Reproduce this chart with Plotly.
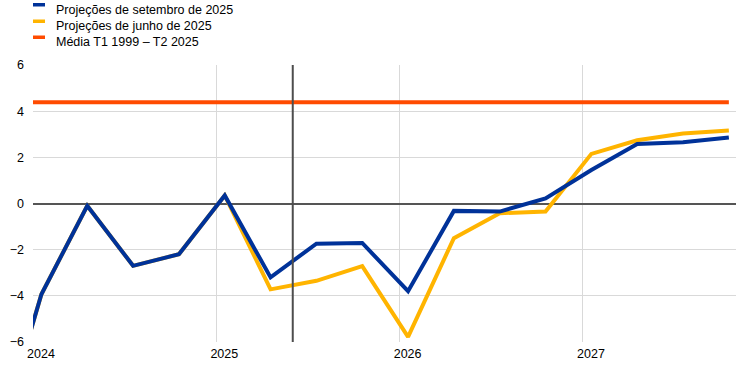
import plotly.graph_objects as go

# Quarterly periods (T = trimestre)
quarters = ["2023T4", "2024T1", "2024T2", "2024T3", "2024T4",
            "2025T1", "2025T2", "2025T3", "2025T4",
            "2026T1", "2026T2", "2026T3", "2026T4",
            "2027T1", "2027T2", "2027T3", "2027T4"]

proj_setembro = [-10.7, -3.93, -0.1, -2.7, -2.2,
                 0.35, -3.2, -1.74, -1.71,
                 -3.8, -0.32, -0.35, 0.22,
                 1.45, 2.58, 2.65, 2.86]

proj_junho = [-10.7, -3.93, -0.1, -2.7, -2.2,
              0.35, -3.72, -3.35, -2.71,
              -5.78, -1.5, -0.42, -0.35,
              2.15, 2.74, 3.03, 3.16]

media_historica = 4.39  # Média T1 1999 – T2 2025

series_names = ["Projeções de setembro de 2025",
                "Projeções de junho de 2025",
                "Média T1 1999 – T2 2025"]

year_ticks = [2024, 2025, 2026, 2027]
year_labels = ["2024", "2025", "2026", "2027"]
cutoff_year = 2025.417  # data de corte das projeções
quarter_offset = 0.046  # position of a quarter inside its span


def q_to_x(q):
    y, t = q.split("T")
    return int(y) + (int(t) - 1) * 0.25 + quarter_offset


x_vals = [q_to_x(q) for q in quarters]

BLUE = "#003299"
YELLOW = "#FFB400"
ORANGE = "#FF4B00"
COLORS = [BLUE, YELLOW, ORANGE]
FONT = "Liberation Sans, Arial, sans-serif"

fig = go.Figure()
fig.add_trace(go.Scatter(x=x_vals, y=proj_junho, mode="lines",
                         name=series_names[1],
                         line=dict(color=YELLOW, width=4), showlegend=False))
fig.add_trace(go.Scatter(x=x_vals, y=proj_setembro, mode="lines",
                         name=series_names[0],
                         line=dict(color=BLUE, width=4), showlegend=False))
fig.add_trace(go.Scatter(x=x_vals, y=[media_historica] * len(x_vals), mode="lines",
                         name=series_names[2],
                         line=dict(color=ORANGE, width=4), showlegend=False))

fig.add_shape(type="line", xref="x", yref="paper", x0=cutoff_year, x1=cutoff_year,
              y0=0, y1=1, line=dict(color="#4d4d4d", width=2), layer="above")

# Legend (drawn by hand to get the short colour swatches)
row_swatch_top = [58.5, 42.0, 26.0]   # pixels above plot top
row_text_shift = [55.5, 39.5, 23.5]
for i, name in enumerate(series_names):
    fig.add_shape(type="rect", xref="paper", yref="paper",
                  xsizemode="pixel", ysizemode="pixel", xanchor=0, yanchor=1,
                  x0=0, x1=12, y0=row_swatch_top[i], y1=row_swatch_top[i] + 3.5,
                  fillcolor=COLORS[i], line=dict(width=0))
    fig.add_annotation(text=name, xref="paper", yref="paper", x=0, y=1,
                       xanchor="left", yanchor="middle", xshift=21,
                       yshift=row_text_shift[i], showarrow=False,
                       font=dict(size=12.5, color="#000000", family=FONT))

fig.update_layout(
    width=741, height=372,
    margin=dict(l=33, r=5, t=65, b=30, autoexpand=False),
    paper_bgcolor="white", plot_bgcolor="white",
    font=dict(family=FONT, size=12.5, color="#000000"),
    showlegend=False,
    xaxis=dict(range=[2024, 2027.835], tickvals=year_ticks, ticktext=year_labels,
               showgrid=True, gridcolor="#d9d9d9", gridwidth=1,
               zeroline=False, showline=False, ticks="",
               ticklabelshift=8, ticklabelstandoff=2),
    yaxis=dict(range=[-6, 6], dtick=2, tick0=0,
               showgrid=True, gridcolor="#d9d9d9", gridwidth=1,
               zeroline=True, zerolinecolor="#555555", zerolinewidth=2,
               showline=False, ticks="", ticklabelstandoff=8),
)

# remove the page's default 8 px body margin so the figure fills the window
fig.write_html("out.html", config={"displayModeBar": False},
               post_script="document.body.style.margin='0px';")
